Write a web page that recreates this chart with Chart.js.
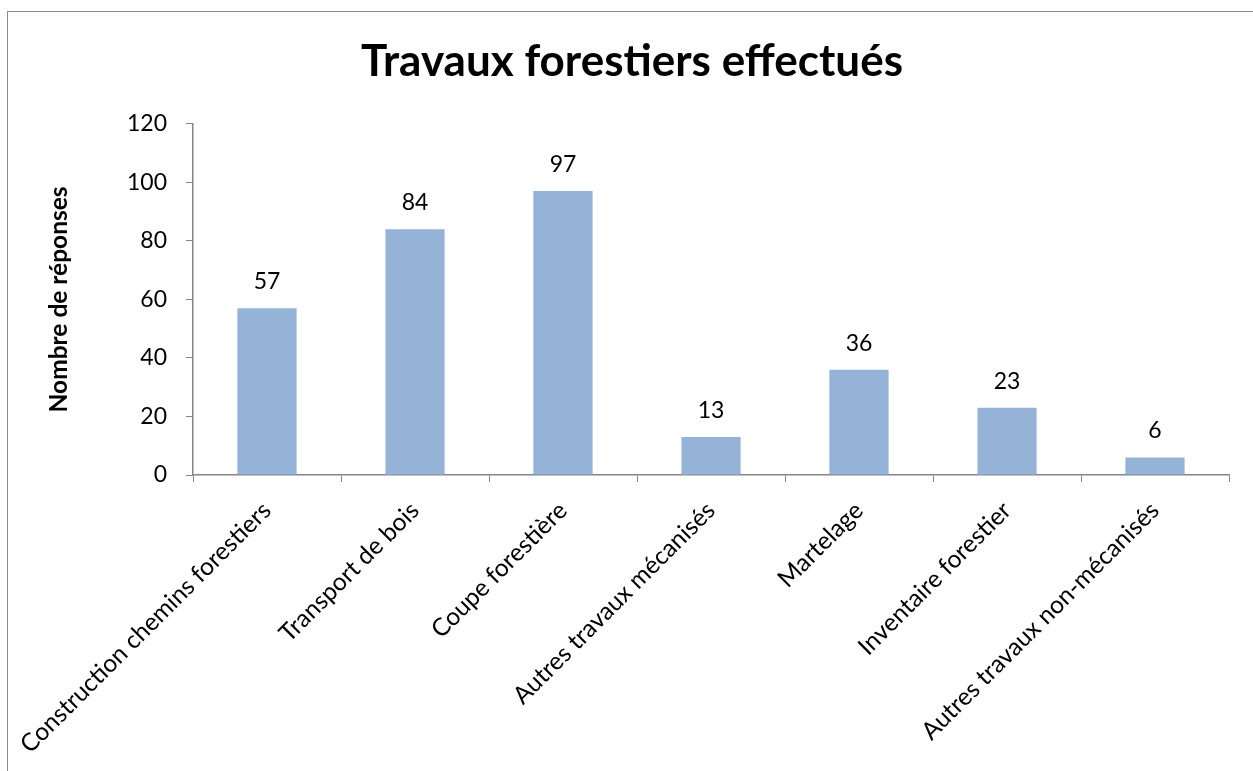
<!DOCTYPE html>
<html>
<head>
<meta charset="utf-8">
<script src="https://cdn.jsdelivr.net/npm/chart.js@4"></script>
<style>
  body { margin: 0; background: #fff; }
  #wrap { position: relative; width: 1253px; height: 771px; overflow: hidden; }
  #frame { position: absolute; left: 7px; top: 11px; width: 1300px; height: 900px; border: 1.5px solid #8c8c8c; }
  #chart { position: absolute; left: 0; top: 0; }
</style>
</head>
<body>
<div id="wrap">
  <div id="frame"></div>
  <canvas id="chart" width="1253" height="771"></canvas>
</div>
<script>
// données
const categories = [
    'Construction chemins forestiers',
    'Transport de bois',
    'Coupe forestière',
    'Autres travaux mécanisés',
    'Martelage',
    'Inventaire forestier',
    'Autres travaux non-mécanisés'
];
const responses = [57, 84, 97, 13, 36, 23, 6];
const yTicks = [0, 20, 40, 60, 80, 100, 120];

const axisGray = '#868686';
const font = 'Lato, "Open Sans", sans-serif';

// étiquettes de valeur au-dessus des barres
const valueLabels = {
    id: 'valueLabels',
    afterDatasetsDraw(chart) {
        const ctx = chart.ctx;
        const meta = chart.getDatasetMeta(0);
        ctx.save();
        ctx.font = '23px ' + font;
        ctx.fillStyle = '#000';
        ctx.textAlign = 'center';
        ctx.textBaseline = 'alphabetic';
        meta.data.forEach((bar, i) => {
            ctx.fillText(String(responses[i]), bar.x, bar.y - 19);
        });
        ctx.restore();
    }
};

const ctx = document.getElementById('chart').getContext('2d');
new Chart(ctx, {
    type: 'bar',
    data: {
        labels: categories,
        datasets: [{
            data: responses,
            backgroundColor: '#95B3D7',
            barPercentage: 0.4,
            categoryPercentage: 1
        }]
    },
    options: {
        responsive: false,
        animation: false,
        layout: { padding: { left: 35, right: 24, top: 0, bottom: 0 } },
        plugins: {
            legend: { display: false },
            tooltip: { enabled: false },
            title: {
                display: true,
                text: 'Travaux forestiers effectués',
                color: '#000',
                font: { family: font, size: 44, weight: 'bold' },
                padding: { top: 35, bottom: 36 }
            }
        },
        scales: {
            x: {
                grid: { display: true, drawOnChartArea: false, drawTicks: true, tickLength: 7, color: axisGray, offset: true },
                border: { color: axisGray, width: 1.5 },
                ticks: {
                    color: '#000',
                    font: { family: font, size: 24.5 },
                    maxRotation: 45,
                    minRotation: 45,
                    padding: 14,
                    autoSkip: false
                },
                afterFit(scale) {
                    scale.height = 296;
                    scale.paddingLeft = 0;
                    scale.paddingRight = 0;
                }
            },
            y: {
                min: 0,
                max: 120,
                afterBuildTicks(scale) { scale.ticks = yTicks.map(v => ({ value: v })); },
                grid: { display: true, drawOnChartArea: false, drawTicks: true, tickLength: 7, color: axisGray },
                border: { color: axisGray, width: 1.5 },
                ticks: {
                    color: '#000',
                    font: { family: font, size: 23 },
                    padding: 19
                },
                title: {
                    display: true,
                    text: 'Nombre de réponses',
                    color: '#000',
                    font: { family: font, size: 24.5, weight: 'bold' },
                    padding: { top: 9, bottom: 0 }
                },
                afterFit(scale) { scale.width = 158; }
            }
        }
    },
    plugins: [valueLabels]
});
</script>
</body>
</html>
